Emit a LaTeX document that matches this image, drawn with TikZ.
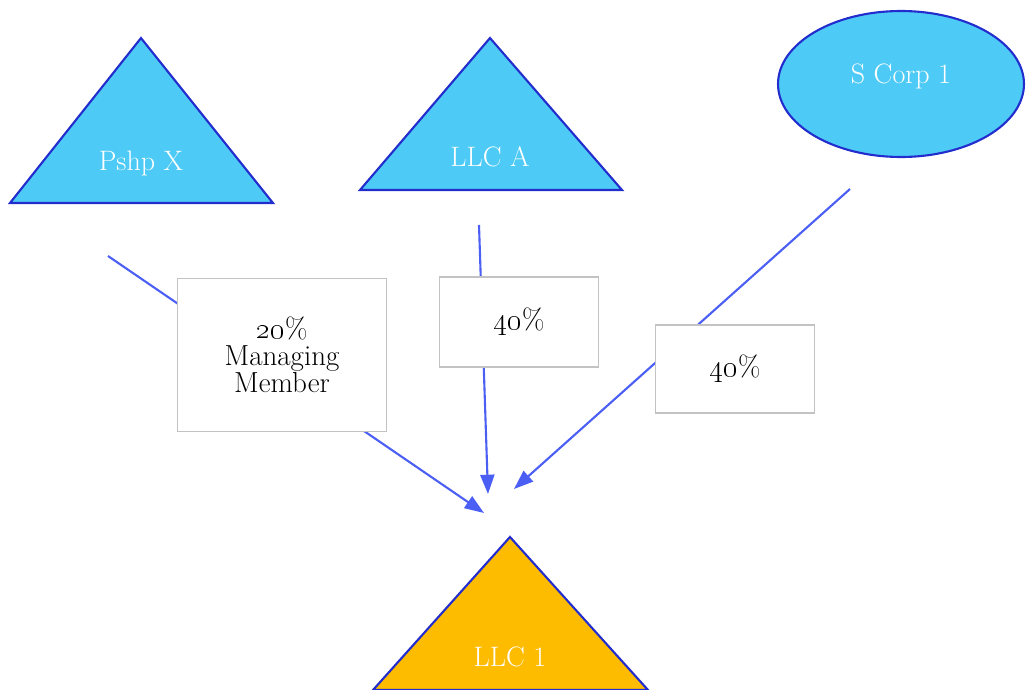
\documentclass[tikz,border=0pt]{standalone}
\usetikzlibrary{arrows.meta,shapes.geometric}

\definecolor{bleuciel}{RGB}{77,202,245}
\definecolor{orangellc}{RGB}{253,188,0}
\definecolor{bordbleu}{RGB}{35,45,205}
\definecolor{fleche}{RGB}{75,95,245}
\definecolor{grisbord}{RGB}{195,195,195}

\tikzset{
  entite/.style={fill=bleuciel, draw=bordbleu, line width=1.2pt},
  nom/.style={text=white, font=\fontsize{16}{17}\selectfont},
  part/.style={draw=grisbord, fill=white, line width=0.8pt, align=center,
    inner sep=0pt, font=\fontsize{16.5}{15.5}\selectfont},
  lien/.style={draw=fleche, line width=1.2pt, -{Triangle[length=11pt,width=8pt]}}
}

\begin{document}
\begin{tikzpicture}[x=0.02cm,y=-0.02cm]
      \useasboundingbox (0,0) rectangle (1029,690);

      %triangles du haut
      \draw[entite] (141,38) -- (273,203) -- (10,203) -- cycle;
      \node[nom] (pshp) at (141,163) {Pshp X};
      \draw[entite] (490,38) -- (622,190) -- (360,190) -- cycle;
      \node[nom] (llca) at (490,157) {LLC A};
      %ellipse
      \node[entite, ellipse, minimum width=4.92cm, minimum height=2.92cm, inner sep=0pt]
        (scorp) at (901,84) {};
      \node[nom] (scorpnom) at (901,76) {S Corp 1};
      %triangle du bas
      \draw[entite, fill=orangellc] (510,537) -- (648,690) -- (373,690) -- cycle;
      \node[nom] (llcun) at (510,657) {LLC 1};

      %fleches
      \coordinate (dpx) at (108,256);
      \coordinate (fpx) at (484,513);
      \coordinate (dla) at (479,225);
      \coordinate (fla) at (488,494);
      \coordinate (dsc) at (850,189);
      \coordinate (fsc) at (514,489);
      \draw[lien] (dpx) -- (fpx);
      \draw[lien] (dla) -- (fla);
      \draw[lien] (dsc) -- (fsc);

      %parts
      \node[part, minimum width=4.18cm, minimum height=3.06cm] (partpx) at (282,355)
        {\oldstylenums{20}\%\\Managing\\Member};
      \node[part, minimum width=3.18cm, minimum height=1.8cm] (partla) at (519,322)
        {\oldstylenums{40}\%};
      \node[part, minimum width=3.18cm, minimum height=1.76cm] (partsc) at (735,369)
        {\oldstylenums{40}\%};
\end{tikzpicture}
\end{document}
